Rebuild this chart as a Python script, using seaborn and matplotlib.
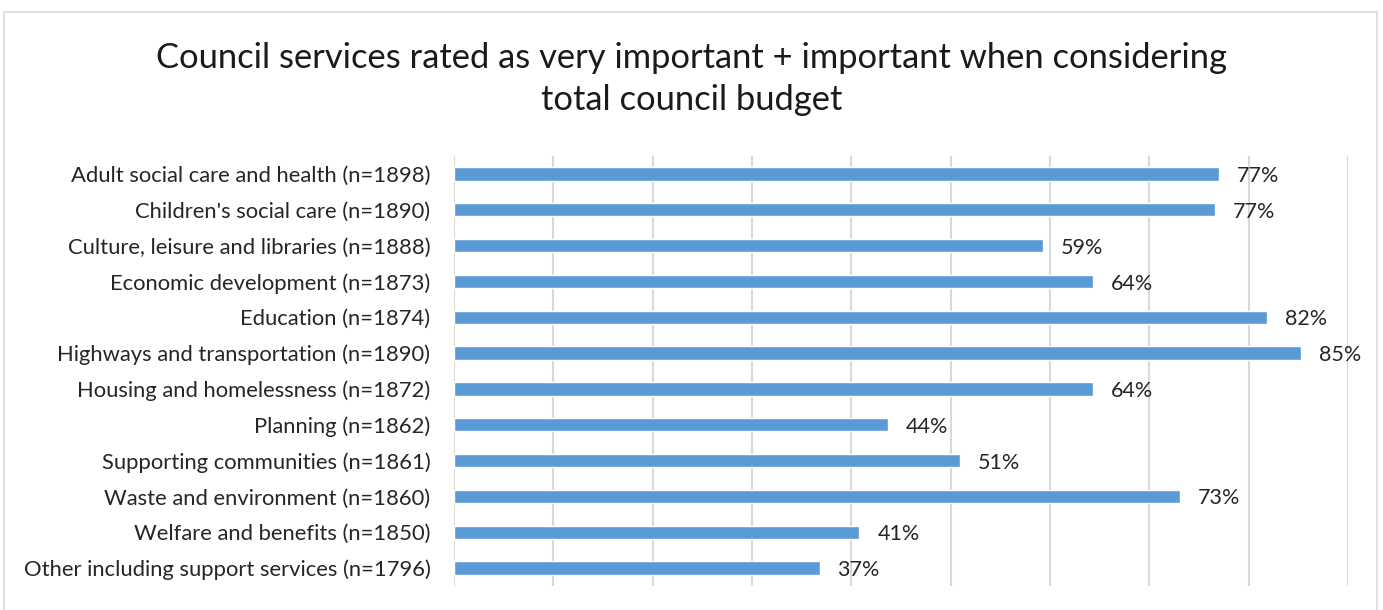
import matplotlib
matplotlib.use("Agg")
import matplotlib.pyplot as plt
import seaborn as sns
import pandas as pd
from matplotlib.patches import Rectangle

categories = [
    "Adult social care and health (n=1898)",
    "Children's social care (n=1890)",
    "Culture, leisure and libraries (n=1888)",
    "Economic development (n=1873)",
    "Education (n=1874)",
    "Highways and transportation (n=1890)",
    "Housing and homelessness (n=1872)",
    "Planning (n=1862)",
    "Supporting communities (n=1861)",
    "Waste and environment (n=1860)",
    "Welfare and benefits (n=1850)",
    "Other including support services (n=1796)",
]
values = [77.0, 76.6, 59.3, 64.3, 81.8, 85.3, 64.3, 43.7, 50.9, 73.1, 40.8, 36.8]
title = "Council services rated as very important + important when considering\ntotal council budget"

sns.set_theme(style="white")
plt.rcParams["font.family"] = ["Lato", "DejaVu Sans"]

df = pd.DataFrame({"service": categories, "pct": values})

fig = plt.figure(figsize=(13.83, 6.10), dpi=100)
ax = fig.add_axes([454 / 1383, 1 - 586 / 610, (1348 - 454) / 1383, (586 - 156) / 610])

sns.barplot(data=df, x="pct", y="service", orient="h", color="#5B9BD5",
            saturation=1, width=0.37, ax=ax, zorder=3)

ax.set_xlim(0, 90)
ax.set_ylim(11.5, -0.5)
ax.set_xticks(range(0, 91, 10))
ax.xaxis.grid(True, color="#D9D9D9", linewidth=1.5, zorder=0)
ax.set_axisbelow(True)
ax.tick_params(axis="x", length=0, labelbottom=False)
ax.tick_params(axis="y", length=0, pad=17, labelsize=15.8, labelcolor="#262626")
ax.set_xlabel("")
ax.set_ylabel("")
for s in ax.spines.values():
    s.set_visible(False)

for c in ax.containers:
    texts = ax.bar_label(c, labels=[f"{round(v)}%" for v in values], padding=13,
                         fontsize=15.5, color="#262626")
    for t in texts:
        t.xyann = (13, -1.5)

fig.text(0.5, 1 - 79 / 610, title, ha="center", va="center", fontsize=24.8,
         color="#1a1a1a", linespacing=1.37)

fig.patches.append(Rectangle((4 / 1383, -0.05), (1377 - 4) / 1383, 1.05 - 11.5 / 610,
                             transform=fig.transFigure, fill=False,
                             edgecolor="#D9D9D9", linewidth=1.2))

fig.savefig("out.png", dpi=100, facecolor="white")
